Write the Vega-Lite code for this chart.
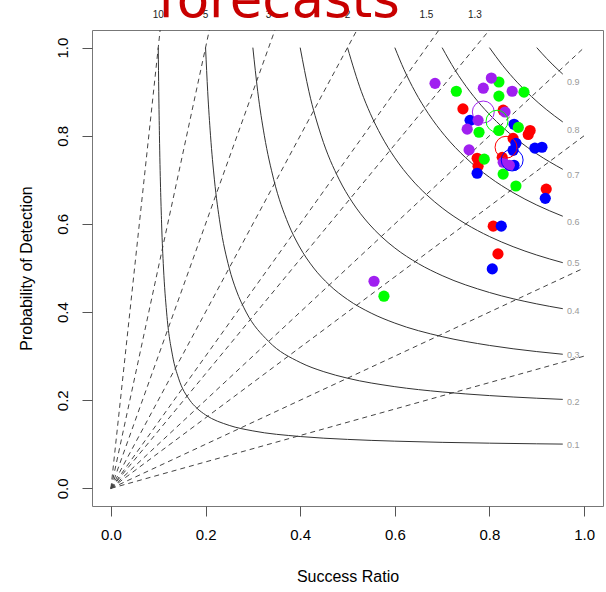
{
  "$schema": "https://vega.github.io/schema/vega-lite/v6.json",
  "width": 511,
  "height": 476,
  "autosize": "none",
  "padding": {"left": 92, "top": 30, "right": 3, "bottom": 86},
  "title": {"text": "forecasts", "anchor": "start", "frame": "group", "dx": 66, "offset": -60, "fontSize": 53, "font": "DejaVu Sans", "fontWeight": "normal", "color": "#C80000", "baseline": "alphabetic"},
  "config": {"view": {"stroke": "#777777", "strokeWidth": 1}, "font": "Liberation Sans"},
  "datasets": {
    "bias": [
      {"b": 0.3, "sr": 0, "pod": 0}, {"b": 0.3, "sr": 1, "pod": 0.3},
      {"b": 0.5, "sr": 0, "pod": 0}, {"b": 0.5, "sr": 1, "pod": 0.5},
      {"b": 0.8, "sr": 0, "pod": 0}, {"b": 0.8, "sr": 1, "pod": 0.8},
      {"b": 1, "sr": 0, "pod": 0}, {"b": 1, "sr": 1, "pod": 1},
      {"b": 1.3, "sr": 0, "pod": 0}, {"b": 1.3, "sr": 0.8, "pod": 1.04},
      {"b": 1.5, "sr": 0, "pod": 0}, {"b": 1.5, "sr": 0.69333, "pod": 1.04},
      {"b": 2, "sr": 0, "pod": 0}, {"b": 2, "sr": 0.52, "pod": 1.04},
      {"b": 3, "sr": 0, "pod": 0}, {"b": 3, "sr": 0.34667, "pod": 1.04},
      {"b": 5, "sr": 0, "pod": 0}, {"b": 5, "sr": 0.208, "pod": 1.04},
      {"b": 10, "sr": 0, "pod": 0}, {"b": 10, "sr": 0.104, "pod": 1.04}
    ],
    "csi": [
      {"c": "0.1", "sr": 0.1, "pod": 1.0}, {"c": "0.1", "sr": 0.10112, "pod": 0.9}, {"c": "0.1", "sr": 0.10256, "pod": 0.8}, {"c": "0.1", "sr": 0.10714, "pod": 0.6}, {"c": "0.1", "sr": 0.11111, "pod": 0.5}, {"c": "0.1", "sr": 0.11765, "pod": 0.4}, {"c": "0.1", "sr": 0.13043, "pod": 0.3}, {"c": "0.1", "sr": 0.14286, "pod": 0.25}, {"c": "0.1", "sr": 0.16667, "pod": 0.2}, {"c": "0.1", "sr": 0.18182, "pod": 0.18182}, {"c": "0.1", "sr": 0.2, "pod": 0.16667}, {"c": "0.1", "sr": 0.25, "pod": 0.14286}, {"c": "0.1", "sr": 0.3, "pod": 0.13043}, {"c": "0.1", "sr": 0.4, "pod": 0.11765}, {"c": "0.1", "sr": 0.5, "pod": 0.11111}, {"c": "0.1", "sr": 0.6, "pod": 0.10714}, {"c": "0.1", "sr": 0.8, "pod": 0.10256}, {"c": "0.1", "sr": 0.9, "pod": 0.10112}, {"c": "0.1", "sr": 0.955, "pod": 0.10047},
      {"c": "0.2", "sr": 0.2, "pod": 1.0}, {"c": "0.2", "sr": 0.20455, "pod": 0.9}, {"c": "0.2", "sr": 0.21053, "pod": 0.8}, {"c": "0.2", "sr": 0.21875, "pod": 0.7}, {"c": "0.2", "sr": 0.23077, "pod": 0.6}, {"c": "0.2", "sr": 0.25, "pod": 0.5}, {"c": "0.2", "sr": 0.26471, "pod": 0.45}, {"c": "0.2", "sr": 0.28571, "pod": 0.4}, {"c": "0.2", "sr": 0.33333, "pod": 0.33333}, {"c": "0.2", "sr": 0.4, "pod": 0.28571}, {"c": "0.2", "sr": 0.45, "pod": 0.26471}, {"c": "0.2", "sr": 0.5, "pod": 0.25}, {"c": "0.2", "sr": 0.6, "pod": 0.23077}, {"c": "0.2", "sr": 0.7, "pod": 0.21875}, {"c": "0.2", "sr": 0.8, "pod": 0.21053}, {"c": "0.2", "sr": 0.9, "pod": 0.20455}, {"c": "0.2", "sr": 0.955, "pod": 0.2019},
      {"c": "0.3", "sr": 0.3, "pod": 1.0}, {"c": "0.3", "sr": 0.31034, "pod": 0.9}, {"c": "0.3", "sr": 0.32432, "pod": 0.8}, {"c": "0.3", "sr": 0.34426, "pod": 0.7}, {"c": "0.3", "sr": 0.375, "pod": 0.6}, {"c": "0.3", "sr": 0.39759, "pod": 0.55}, {"c": "0.3", "sr": 0.42857, "pod": 0.5}, {"c": "0.3", "sr": 0.46154, "pod": 0.46154}, {"c": "0.3", "sr": 0.5, "pod": 0.42857}, {"c": "0.3", "sr": 0.55, "pod": 0.39759}, {"c": "0.3", "sr": 0.6, "pod": 0.375}, {"c": "0.3", "sr": 0.7, "pod": 0.34426}, {"c": "0.3", "sr": 0.8, "pod": 0.32432}, {"c": "0.3", "sr": 0.9, "pod": 0.31034}, {"c": "0.3", "sr": 0.955, "pod": 0.3043},
      {"c": "0.4", "sr": 0.4, "pod": 1.0}, {"c": "0.4", "sr": 0.4186, "pod": 0.9}, {"c": "0.4", "sr": 0.44444, "pod": 0.8}, {"c": "0.4", "sr": 0.48276, "pod": 0.7}, {"c": "0.4", "sr": 0.5098, "pod": 0.65}, {"c": "0.4", "sr": 0.54545, "pod": 0.6}, {"c": "0.4", "sr": 0.57143, "pod": 0.57143}, {"c": "0.4", "sr": 0.6, "pod": 0.54545}, {"c": "0.4", "sr": 0.65, "pod": 0.5098}, {"c": "0.4", "sr": 0.7, "pod": 0.48276}, {"c": "0.4", "sr": 0.8, "pod": 0.44444}, {"c": "0.4", "sr": 0.9, "pod": 0.4186}, {"c": "0.4", "sr": 0.955, "pod": 0.40769},
      {"c": "0.5", "sr": 0.5, "pod": 1.0}, {"c": "0.5", "sr": 0.52941, "pod": 0.9}, {"c": "0.5", "sr": 0.54839, "pod": 0.85}, {"c": "0.5", "sr": 0.57143, "pod": 0.8}, {"c": "0.5", "sr": 0.6, "pod": 0.75}, {"c": "0.5", "sr": 0.63636, "pod": 0.7}, {"c": "0.5", "sr": 0.66667, "pod": 0.66667}, {"c": "0.5", "sr": 0.7, "pod": 0.63636}, {"c": "0.5", "sr": 0.75, "pod": 0.6}, {"c": "0.5", "sr": 0.8, "pod": 0.57143}, {"c": "0.5", "sr": 0.85, "pod": 0.54839}, {"c": "0.5", "sr": 0.9, "pod": 0.52941}, {"c": "0.5", "sr": 0.955, "pod": 0.51206},
      {"c": "0.6", "sr": 0.6, "pod": 1.0}, {"c": "0.6", "sr": 0.61957, "pod": 0.95}, {"c": "0.6", "sr": 0.64286, "pod": 0.9}, {"c": "0.6", "sr": 0.67105, "pod": 0.85}, {"c": "0.6", "sr": 0.70588, "pod": 0.8}, {"c": "0.6", "sr": 0.75, "pod": 0.75}, {"c": "0.6", "sr": 0.8, "pod": 0.70588}, {"c": "0.6", "sr": 0.85, "pod": 0.67105}, {"c": "0.6", "sr": 0.9, "pod": 0.64286}, {"c": "0.6", "sr": 0.955, "pod": 0.61745},
      {"c": "0.7", "sr": 0.7, "pod": 1.0}, {"c": "0.7", "sr": 0.72678, "pod": 0.95}, {"c": "0.7", "sr": 0.75904, "pod": 0.9}, {"c": "0.7", "sr": 0.79003, "pod": 0.86}, {"c": "0.7", "sr": 0.82353, "pod": 0.82353}, {"c": "0.7", "sr": 0.86, "pod": 0.79003}, {"c": "0.7", "sr": 0.9, "pod": 0.75904}, {"c": "0.7", "sr": 0.955, "pod": 0.72388},
      {"c": "0.8", "sr": 0.8, "pod": 1.0}, {"c": "0.8", "sr": 0.82759, "pod": 0.96}, {"c": "0.8", "sr": 0.85981, "pod": 0.92}, {"c": "0.8", "sr": 0.88889, "pod": 0.88889}, {"c": "0.8", "sr": 0.92, "pod": 0.85981}, {"c": "0.8", "sr": 0.955, "pod": 0.83134},
      {"c": "0.9", "sr": 0.9, "pod": 1.0}, {"c": "0.9", "sr": 0.92126, "pod": 0.975}, {"c": "0.9", "sr": 0.94737, "pod": 0.94737}, {"c": "0.9", "sr": 0.955, "pod": 0.93986}
    ],
    "csilab": [
      {"label": "0.1", "sr": 0.977, "pod": 0.098}, {"label": "0.2", "sr": 0.977, "pod": 0.196}, {"label": "0.3", "sr": 0.977, "pod": 0.303},
      {"label": "0.4", "sr": 0.977, "pod": 0.402}, {"label": "0.5", "sr": 0.977, "pod": 0.511}, {"label": "0.6", "sr": 0.977, "pod": 0.604},
      {"label": "0.7", "sr": 0.977, "pod": 0.71}, {"label": "0.8", "sr": 0.977, "pod": 0.813}, {"label": "0.9", "sr": 0.977, "pod": 0.921}
    ],
    "biaslab": [
      {"label": "10", "sr": 0.1, "pod": 1.073}, {"label": "5", "sr": 0.2, "pod": 1.073}, {"label": "3", "sr": 0.3333, "pod": 1.073},
      {"label": "2", "sr": 0.5, "pod": 1.073}, {"label": "1.5", "sr": 0.6667, "pod": 1.073}, {"label": "1.3", "sr": 0.7692, "pod": 1.073}
    ],
    "points": [
      {"group": "red", "sr": 0.744, "pod": 0.861}, {"group": "red", "sr": 0.829, "pod": 0.858}, {"group": "red", "sr": 0.886, "pod": 0.812}, {"group": "red", "sr": 0.882, "pod": 0.803}, {"group": "red", "sr": 0.85, "pod": 0.794}, {"group": "red", "sr": 0.774, "pod": 0.749}, {"group": "red", "sr": 0.776, "pod": 0.731}, {"group": "red", "sr": 0.827, "pod": 0.751}, {"group": "red", "sr": 0.92, "pod": 0.679}, {"group": "red", "sr": 0.808, "pod": 0.595}, {"group": "red", "sr": 0.818, "pod": 0.532},
      {"group": "blue", "sr": 0.759, "pod": 0.835}, {"group": "blue", "sr": 0.852, "pod": 0.826}, {"group": "blue", "sr": 0.856, "pod": 0.783}, {"group": "blue", "sr": 0.85, "pod": 0.767}, {"group": "blue", "sr": 0.774, "pod": 0.715}, {"group": "blue", "sr": 0.896, "pod": 0.772}, {"group": "blue", "sr": 0.911, "pod": 0.774}, {"group": "blue", "sr": 0.852, "pod": 0.733}, {"group": "blue", "sr": 0.918, "pod": 0.658}, {"group": "blue", "sr": 0.825, "pod": 0.595}, {"group": "blue", "sr": 0.806, "pod": 0.498},
      {"group": "green", "sr": 0.82, "pod": 0.922}, {"group": "green", "sr": 0.73, "pod": 0.901}, {"group": "green", "sr": 0.82, "pod": 0.89}, {"group": "green", "sr": 0.873, "pod": 0.899}, {"group": "green", "sr": 0.778, "pod": 0.808}, {"group": "green", "sr": 0.82, "pod": 0.812}, {"group": "green", "sr": 0.861, "pod": 0.819}, {"group": "green", "sr": 0.789, "pod": 0.747}, {"group": "green", "sr": 0.829, "pod": 0.713}, {"group": "green", "sr": 0.856, "pod": 0.686}, {"group": "green", "sr": 0.577, "pod": 0.436},
      {"group": "purple", "sr": 0.685, "pod": 0.919}, {"group": "purple", "sr": 0.804, "pod": 0.931}, {"group": "purple", "sr": 0.787, "pod": 0.908}, {"group": "purple", "sr": 0.848, "pod": 0.901}, {"group": "purple", "sr": 0.833, "pod": 0.854}, {"group": "purple", "sr": 0.776, "pod": 0.835}, {"group": "purple", "sr": 0.753, "pod": 0.815}, {"group": "purple", "sr": 0.757, "pod": 0.768}, {"group": "purple", "sr": 0.829, "pod": 0.74}, {"group": "purple", "sr": 0.842, "pod": 0.733}, {"group": "purple", "sr": 0.556, "pod": 0.47}
    ],
    "means": [
      {"group": "purple", "sr": 0.787, "pod": 0.854}, {"group": "green", "sr": 0.816, "pod": 0.833},
      {"group": "red", "sr": 0.835, "pod": 0.774}, {"group": "blue", "sr": 0.848, "pod": 0.745}
    ]
  },
  "encoding": {
    "x": {"field": "sr", "type": "quantitative", "scale": {"domain": [-0.04, 1.04], "nice": false, "zero": false},
      "axis": {"title": "Success Ratio", "values": [0, 0.2, 0.4, 0.6, 0.8, 1], "format": ".1f", "grid": false, "domain": false, "tickSize": 10, "tickColor": "#555555", "labelPadding": 11, "labelFontSize": 15, "labelColor": "#000000", "labelFont": "Liberation Sans", "labelFlush": false, "titleFontSize": 16, "titleFontWeight": "normal", "titleFont": "Liberation Sans", "titleColor": "#000000", "titlePadding": 26}},
    "y": {"field": "pod", "type": "quantitative", "scale": {"domain": [-0.04, 1.04], "nice": false, "zero": false},
      "axis": {"title": "Probability of Detection", "values": [0, 0.2, 0.4, 0.6, 0.8, 1], "format": ".1f", "grid": false, "domain": false, "tickSize": 10, "tickColor": "#555555", "labelAngle": -90, "labelAlign": "center", "labelBaseline": "bottom", "labelPadding": 12, "labelFontSize": 15, "labelColor": "#000000", "labelFont": "Liberation Sans", "labelFlush": false, "titleFontSize": 16, "titleFontWeight": "normal", "titleFont": "Liberation Sans", "titleColor": "#000000", "titlePadding": 21}}
  },
  "layer": [
    {"data": {"name": "bias"}, "mark": {"type": "line", "strokeDash": [5, 4], "color": "#444444", "strokeWidth": 1, "clip": true}, "encoding": {"detail": {"field": "b", "type": "nominal"}}},
    {"data": {"name": "csi"}, "mark": {"type": "line", "interpolate": "monotone", "color": "#333333", "strokeWidth": 1, "clip": true}, "encoding": {"detail": {"field": "c", "type": "nominal"}}},
    {"data": {"name": "csilab"}, "mark": {"type": "text", "fontSize": 9, "color": "#9a9a9a", "align": "center", "baseline": "middle", "font": "Liberation Sans"}, "encoding": {"text": {"field": "label"}}},
    {"data": {"name": "biaslab"}, "mark": {"type": "text", "fontSize": 10, "color": "#222222", "align": "center", "baseline": "middle", "font": "Liberation Sans"}, "encoding": {"text": {"field": "label"}}},
    {"data": {"name": "points"}, "mark": {"type": "point", "filled": true, "opacity": 1, "size": 125, "strokeWidth": 0},
      "encoding": {"color": {"field": "group", "type": "nominal", "scale": {"domain": ["red", "blue", "green", "purple"], "range": ["#FF0000", "#0000FF", "#00FF00", "#A020F0"]}, "legend": null}}},
    {"data": {"name": "means"}, "mark": {"type": "point", "filled": false, "opacity": 1, "size": 480, "strokeWidth": 1},
      "encoding": {"color": {"field": "group", "type": "nominal", "scale": {"domain": ["red", "blue", "green", "purple"], "range": ["#FF0000", "#0000FF", "#00FF00", "#A020F0"]}, "legend": null}}}
  ]
}
